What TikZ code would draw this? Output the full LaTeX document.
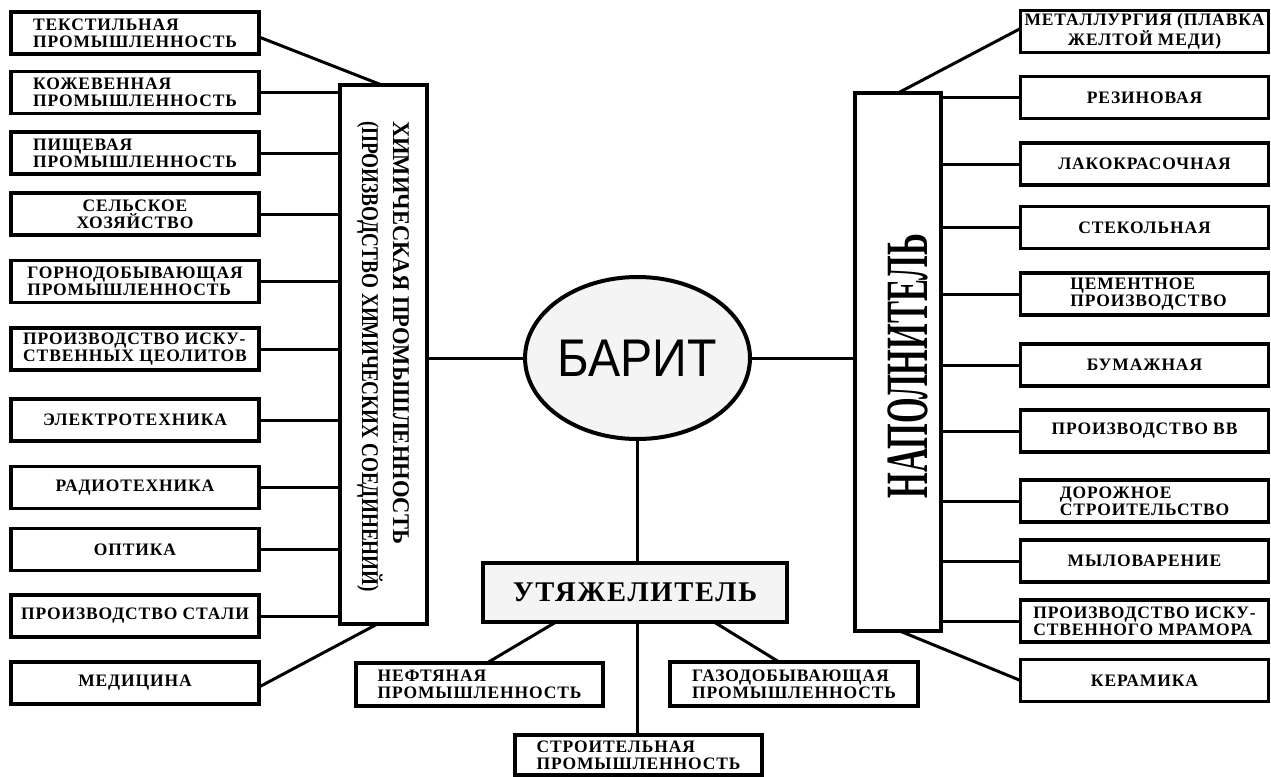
\documentclass[tikz,border=0pt]{standalone}
\usepackage{fontspec}
\setmainfont{Liberation Serif}
\newfontfamily\bxf[LetterSpace=5]{Liberation Serif}
\newfontfamily\hdf{Liberation Serif}
\newfontfamily\arialf{Liberation Sans}
\usetikzlibrary{calc,shapes.geometric}
\definecolor{lightfill}{HTML}{F4F4F4}
\begin{document}
\begin{tikzpicture}[x=1pt,y=-1pt,
  every node/.style={inner sep=0pt,outer sep=0pt},
  box/.style={draw,line width=3.5pt,minimum width=248pt,minimum height=42pt,
    font=\bxf\bfseries\fontsize{17.5}{16.7}\selectfont,align=left},
  bigbox/.style={draw,line width=3.5pt},
  conn/.style={line width=3pt}]
\useasboundingbox (0,0) rectangle (1271,776);

% left column
\node[box] (l1) at (135,33) {ТЕКСТИЛЬНАЯ\\ПРОМЫШЛЕННОСТЬ};
\node[box] (l2) at (135,92.5) {КОЖЕВЕННАЯ\\ПРОМЫШЛЕННОСТЬ};
\node[box] (l3) at (135,153) {ПИЩЕВАЯ\\ПРОМЫШЛЕННОСТЬ};
\node[box,align=center] (l4) at (135,214) {СЕЛЬСКОЕ\\ХОЗЯЙСТВО};
\node[box] (l5) at (135,281.5) {ГОРНОДОБЫВАЮЩАЯ\\ПРОМЫШЛЕННОСТЬ};
\node[box] (l6) at (135,349) {ПРОИЗВОДСТВО ИСКУ-\\СТВЕННЫХ ЦЕОЛИТОВ};
\node[box] (l7) at (135,420) {ЭЛЕКТРОТЕХНИКА};
\node[box] (l8) at (135,487.5) {РАДИОТЕХНИКА};
\node[box] (l9) at (135,549.5) {ОПТИКА};
\node[box] (l10) at (135,616) {ПРОИЗВОДСТВО СТАЛИ};
\node[box] (l11) at (135,683) {МЕДИЦИНА};

% right column
\node[box,align=center] (r1) at (1144.5,31.5) {МЕТАЛЛУРГИЯ (ПЛАВКА\\ЖЕЛТОЙ МЕДИ)};
\node[box] (r2) at (1144.5,97.5) {РЕЗИНОВАЯ};
\node[box] (r3) at (1144.5,164) {ЛАКОКРАСОЧНАЯ};
\node[box] (r4) at (1144.5,227.5) {СТЕКОЛЬНАЯ};
\node[box] (r5) at (1144.5,294) {\hspace*{8pt}ЦЕМЕНТНОЕ\\\hspace*{8pt}ПРОИЗВОДСТВО};
\node[box] (r6) at (1144.5,365) {БУМАЖНАЯ};
\node[box] (r7) at (1144.5,431) {ПРОИЗВОДСТВО ВВ};
\node[box] (r8) at (1144.5,501) {ДОРОЖНОЕ\\СТРОИТЕЛЬСТВО};
\node[box] (r9) at (1144.5,561) {МЫЛОВАРЕНИЕ};
\node[box] (r10) at (1144.5,621) {ПРОИЗВОДСТВО ИСКУ-\\СТВЕННОГО МРАМОРА};
\node[box] (r11) at (1144.5,680.5) {КЕРАМИКА};

% vertical category boxes
\node[bigbox,minimum width=87pt,minimum height=539pt] (chem) at (383.5,354.5) {};
\node[anchor=base west,rotate=-90,font=\hdf\bfseries\fontsize{24}{24}\selectfont] (chemA) at (393,121) {\scalebox{0.94}[1]{ХИМИЧЕСКАЯ ПРОМЫШЛЕННОСТЬ}};
\node[anchor=base west,rotate=-90,font=\hdf\bfseries\fontsize{24}{24}\selectfont] (chemB) at (362,121) {\scalebox{0.80}[1]{(ПРОИЗВОДСТВО ХИМИЧЕСКИХ СОЕДИНЕНИЙ)}};

\node[bigbox,minimum width=86pt,minimum height=538pt] (nap) at (898,362) {};
\node[rotate=90,font=\hdf\bfseries\fontsize{60}{60}\selectfont] (napT) at (908,366) {\scalebox{0.55}[1]{НАПОЛНИТЕЛЬ}};

% centre
\node[draw,ellipse,line width=4pt,fill=lightfill,minimum width=209pt,minimum height=162pt,
  font=\arialf\fontsize{53}{53}\selectfont] (bar) at (637.5,358) {\scalebox{0.91}[1]{БАРИТ}};

\node[bigbox,fill=lightfill,minimum width=304pt,minimum height=59pt,
  font=\hdf\bfseries\fontsize{28.5}{28.5}\selectfont] (ut) at (635,592.5) {\addfontfeatures{LetterSpace=6}УТЯЖЕЛИТЕЛЬ};
\node[box,minimum width=247pt,minimum height=43pt] (nf) at (479.5,684.5) {НЕФТЯНАЯ\\ПРОМЫШЛЕННОСТЬ};
\node[box,minimum width=248pt,minimum height=44pt] (gz) at (794,684) {ГАЗОДОБЫВАЮЩАЯ\\ПРОМЫШЛЕННОСТЬ};
\node[box,minimum width=247pt,minimum height=40pt] (st) at (638.5,755) {СТРОИТЕЛЬНАЯ\\ПРОМЫШЛЕННОСТЬ};

% connectors left
\draw[conn] ($(l1.east)+(0,4)$) -- ($(chem.north west)!0.48!(chem.north east)$);
\foreach \n in {l2,l3,l4,l5,l6,l7,l8,l9,l10}{
  \draw[conn] (\n.east) -- (\n.east -| chem.west);
}
\draw[conn] ($(l11.east)+(0,4)$) -- ($(chem.south west)!0.43!(chem.south east)$);

% connectors right
\draw[conn] ($(r1.west)+(0,-3)$) -- ($(nap.north west)!0.5!(nap.north east)$);
\foreach \n in {r2,r3,r4,r5,r6,r7,r8,r9,r10}{
  \draw[conn] (\n.west) -- (\n.west -| nap.east);
}
\draw[conn] ($(nap.south west)!0.52!(nap.south east)$) -- (r11.west);

% centre connectors
\draw[conn] (chem.east |- bar.west) -- (bar.west);
\draw[conn] (bar.east) -- (bar.east -| nap.west);
\draw[conn] (bar.south) -- (bar.south |- ut.north);
\draw[conn] (ut.south -| bar.south) -- (bar.south |- st.north);
\draw[conn] ($(ut.south west)!0.24!(ut.south east)$) -- ($(nf.north west)!0.53!(nf.north east)$);
\draw[conn] ($(ut.south west)!0.76!(ut.south east)$) -- ($(gz.north west)!0.44!(gz.north east)$);
\end{tikzpicture}
\end{document}
